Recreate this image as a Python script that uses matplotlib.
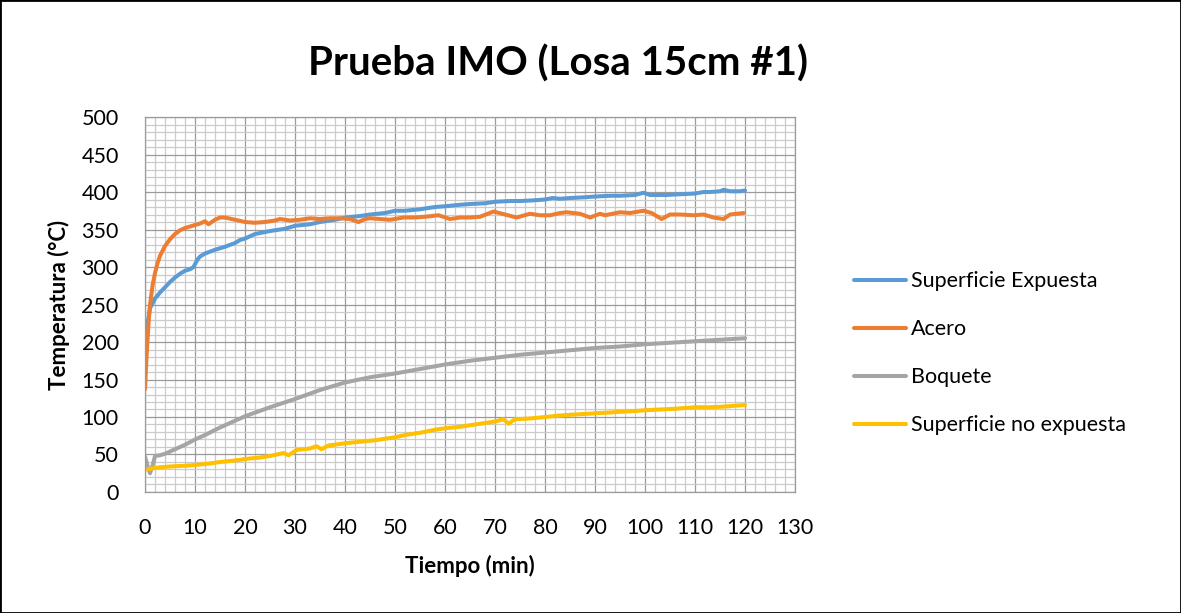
import numpy as np
import matplotlib
matplotlib.use("Agg")
import matplotlib.pyplot as plt
from matplotlib.patches import Rectangle
from matplotlib.ticker import MultipleLocator

plt.rcParams['font.family'] = ['Lato', 'DejaVu Sans']

# Datos
titulo = "Prueba IMO (Losa 15cm #1)"
series = ["Superficie Expuesta", "Acero", "Boquete", "Superficie no expuesta"]
colores = ["#5B9BD5", "#ED7D31", "#A5A5A5", "#FFC000"]

t_expuesta = [0, 0.5, 1, 2, 3, 4, 5, 6, 7, 8, 9, 9.7, 10.5, 11, 12, 14, 16, 18, 19, 20,
              22, 25, 28, 30, 33, 35, 38, 40, 43, 45, 48, 50, 52, 55, 58, 60, 63, 65, 68, 70,
              73, 75, 78, 80, 81.5, 83, 85, 88, 90, 93, 95, 98, 99.7, 101, 104, 107, 110,
              111.7, 113, 115, 115.7, 117, 119, 120]
temp_expuesta = [175, 225, 245, 258, 266, 273, 280, 286, 291, 295, 297, 300, 310, 314, 318, 323, 327, 332, 336, 338,
                 344, 348, 351, 355, 357, 360, 363, 366, 368, 370, 372, 375, 375, 377, 380, 381, 383, 384, 385, 387,
                 388, 388, 389, 390, 392, 391, 392, 393, 394, 395, 395, 396, 399, 396, 396, 397, 398,
                 400, 400, 401, 403, 401, 401, 402]

t_acero = [0, 0.3, 0.7, 1, 1.5, 2, 2.5, 3, 4, 5, 6, 7, 8, 9, 10, 11, 12, 12.7, 14, 15,
           16, 18, 20, 22, 24, 26, 27, 29, 31, 33, 35, 37, 39, 41, 42.7, 44, 45, 47, 49, 51.7,
           54, 56, 58.7, 61, 63, 65, 67, 69.7, 72, 74.3, 77, 79, 81, 83, 84.3, 87, 89, 91,
           92, 95, 97, 99.7, 101.3, 103.3, 105, 107, 109.7, 111.7, 113.7, 115.7, 117, 119.7]
temp_acero = [137, 180, 225, 250, 275, 292, 305, 315, 328, 337, 344, 349, 352, 354, 356, 358, 361, 357, 363, 366,
              366, 363, 360, 359, 360, 362, 364, 362, 363, 365, 364, 365, 365, 364, 360, 364, 365, 364, 363, 366,
              366, 367, 369, 364, 366, 366, 367, 374, 370, 366, 371, 369, 369, 372, 373, 371, 366, 371,
              369, 373, 372, 375, 372, 364, 370, 370, 369, 370, 366, 364, 370, 372]

t_boquete = [0, 0.5, 1, 1.5, 2, 3, 4, 5, 6, 8, 10, 12, 15, 18, 20, 25, 30, 35, 40, 45,
             50, 55, 60, 65, 70, 75, 80, 85, 90, 95, 100, 105, 110, 115, 120]
temp_boquete = [47, 35, 25, 35, 48, 49, 51, 54, 57, 63, 70, 76, 86, 95, 101, 113, 124, 136, 146, 153,
                158, 164, 170, 175, 179, 183, 186, 189, 192, 194, 197, 199, 201, 203, 205]

t_no_expuesta = [0, 1, 3, 5, 8, 10, 13, 15, 18, 20, 23, 25, 27.7, 28.7, 30.3, 33, 34.3, 35.3, 36.7, 40,
                 43, 46, 48, 50, 52, 55, 58, 60, 63, 65, 68, 70, 71.7, 72.7, 74, 77, 80, 83, 85, 88,
                 90, 93, 95, 98, 100, 103, 106, 108, 110, 113, 116, 118, 120]
temp_no_expuesta = [30, 31, 33, 34, 35, 36, 38, 40, 42, 44, 46, 48, 52, 49, 56, 58, 61, 57, 62, 65,
                    67, 69, 71, 73, 76, 79, 83, 85, 87, 89, 92, 94, 97, 91, 97, 98, 100, 102, 103, 104,
                    105, 106, 107, 108, 109, 110, 111, 112, 113, 113, 114, 115, 116]

datos = [(t_expuesta, temp_expuesta), (t_acero, temp_acero),
         (t_boquete, temp_boquete), (t_no_expuesta, temp_no_expuesta)]

fig = plt.figure(figsize=(11.81, 6.13), dpi=100)
ax = fig.add_axes([0.1228, 0.1974, 0.5504, 0.6117])

for (t, temp), nombre, color in zip(datos, series, colores):
    ax.plot(t, temp, color=color, linewidth=2.9, label=nombre, solid_capstyle='round')

ax.set_xlim(0, 130)
ax.set_ylim(0, 500)
ax.xaxis.set_major_locator(MultipleLocator(10))
ax.xaxis.set_minor_locator(MultipleLocator(2))
ax.yaxis.set_major_locator(MultipleLocator(50))
ax.yaxis.set_minor_locator(MultipleLocator(10))
ax.grid(which='minor', color='#cbcbcb', linewidth=0.9)
ax.grid(which='major', color='#9a9a9a', linewidth=0.9)
ax.set_axisbelow(True)
for s in ax.spines.values():
    s.set_color('#9a9a9a')
    s.set_linewidth(0.9)
ax.tick_params(which='both', length=0)
ax.tick_params(axis='x', labelsize=15.5, pad=19)
ax.tick_params(axis='y', labelsize=15.5, pad=19)

ax.set_xlabel("Tiempo (min)", fontsize=16, fontweight='bold', labelpad=12)
ax.set_ylabel("Temperatura (°C)", fontsize=16, fontweight='bold', labelpad=8)

fig.text(0.4725, 0.897, titulo, fontsize=29, fontweight='bold', ha='center', va='center')

ax.legend(loc='center left', bbox_to_anchor=(0.716, 0.424), bbox_transform=fig.transFigure,
          frameon=False, fontsize=15.5, handlelength=2.4, handletextpad=0.25, labelspacing=1.3,
          borderaxespad=0)

fig.add_artist(Rectangle((0, 0), 1, 1, transform=fig.transFigure, fill=False,
                         edgecolor='black', linewidth=2))

fig.savefig("out.png", dpi=100)
